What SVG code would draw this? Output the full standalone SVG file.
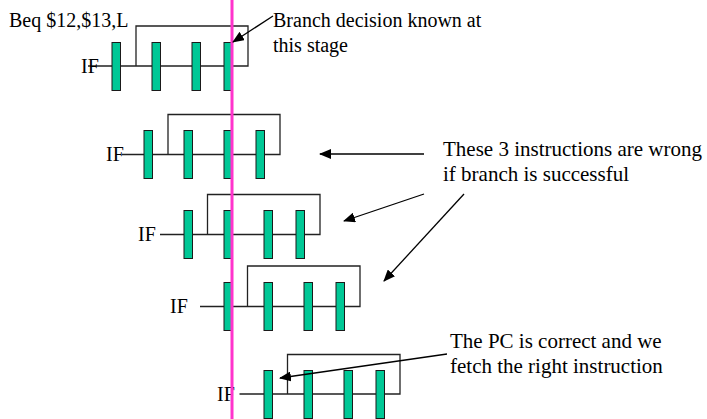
<svg xmlns="http://www.w3.org/2000/svg" width="707" height="419" viewBox="0 0 707 419">
<style>
.t{font-family:"Liberation Serif","Times New Roman",serif;font-size:20px;fill:#000}
.big{font-size:21px}
.bar{fill:#00C896;stroke:#1a1a1a;stroke-width:1}
.ln{fill:none;stroke:#222;stroke-width:1.3}
.ar{fill:none;stroke:#000;stroke-width:1.3}
</style>
<defs>
<marker id="ah" viewBox="0 0 12 10" refX="11" refY="5" markerWidth="12" markerHeight="10" markerUnits="userSpaceOnUse" orient="auto">
<path d="M0,0 L12,5 L0,10 Z" fill="#000"/>
</marker>
</defs>
<rect width="707" height="419" fill="#fff"/>

<g id="row1">
<path class="ln" d="M88,66 H248 V26 H136 V66"/>
<rect class="bar" x="112" y="42.5" width="8.5" height="48"/>
<rect class="bar" x="152" y="42.5" width="8.5" height="48"/>
<rect class="bar" x="192" y="42.5" width="8.5" height="48"/>
<rect class="bar" x="224" y="42.5" width="8.5" height="48"/>
<text class="t" x="81" y="73">IF</text>
<text class="t" x="9" y="27">Beq $12,$13,L</text>
</g>

<g id="row2">
<path class="ln" d="M122,154.5 H280 V114.5 H168 V154.5"/>
<rect class="bar" x="144" y="130.5" width="8.5" height="48"/>
<rect class="bar" x="184" y="130.5" width="8.5" height="48"/>
<rect class="bar" x="224" y="130.5" width="8.5" height="48"/>
<rect class="bar" x="256" y="130.5" width="8.5" height="48"/>
<text class="t" x="106" y="161">IF</text>
</g>

<g id="row3">
<path class="ln" d="M160,234.5 H320 V194.5 H207.5 V234.5"/>
<rect class="bar" x="184" y="210.5" width="8.5" height="48"/>
<rect class="bar" x="224" y="210.5" width="8.5" height="48"/>
<rect class="bar" x="264" y="210.5" width="8.5" height="48"/>
<rect class="bar" x="296" y="210.5" width="8.5" height="48"/>
<text class="t" x="138" y="241">IF</text>
</g>

<g id="row4">
<path class="ln" d="M200,306.5 H360 V266 H247.5 V306.5"/>
<rect class="bar" x="224" y="282.5" width="8.5" height="48"/>
<rect class="bar" x="264" y="282.5" width="8.5" height="48"/>
<rect class="bar" x="304" y="282.5" width="8.5" height="48"/>
<rect class="bar" x="336" y="282.5" width="8.5" height="48"/>
<text class="t" x="170" y="313">IF</text>
</g>

<g id="row5">
<path class="ln" d="M239.5,394 H400 V354.5 H287.5 V394"/>
<rect class="bar" x="264" y="370.5" width="8.5" height="48"/>
<rect class="bar" x="304" y="370.5" width="8.5" height="48"/>
<rect class="bar" x="344" y="370.5" width="8.5" height="48"/>
<rect class="bar" x="376" y="370.5" width="8.5" height="48"/>
<text class="t" x="217" y="401">IF</text>
</g>

<g id="stage-line">
<line x1="232" y1="0" x2="232" y2="419" stroke="#FF33CC" stroke-width="3"/>
</g>

<g id="note-branch">
<text class="t" x="273" y="27">Branch decision known at</text>
<text class="t" x="273" y="52">this stage</text>
</g>

<g id="note-wrong">
<text class="t big" x="443" y="156">These 3 instructions are wrong</text>
<text class="t big" x="443" y="181">if branch is successful</text>
</g>

<g id="note-pc">
<text class="t big" x="450" y="348">The PC is correct and we</text>
<text class="t big" x="450" y="373">fetch the right instruction</text>
</g>

<g id="connectors">
<line class="ar" x1="273" y1="16" x2="233" y2="42" marker-end="url(#ah)"/>
<line class="ar" x1="424" y1="154" x2="320" y2="154" marker-end="url(#ah)"/>
<line class="ar" x1="424" y1="194" x2="344" y2="221" marker-end="url(#ah)"/>
<line class="ar" x1="464" y1="194" x2="384" y2="281" marker-end="url(#ah)"/>
<line class="ar" x1="447" y1="354" x2="280" y2="378" marker-end="url(#ah)"/>
</g>
</svg>
